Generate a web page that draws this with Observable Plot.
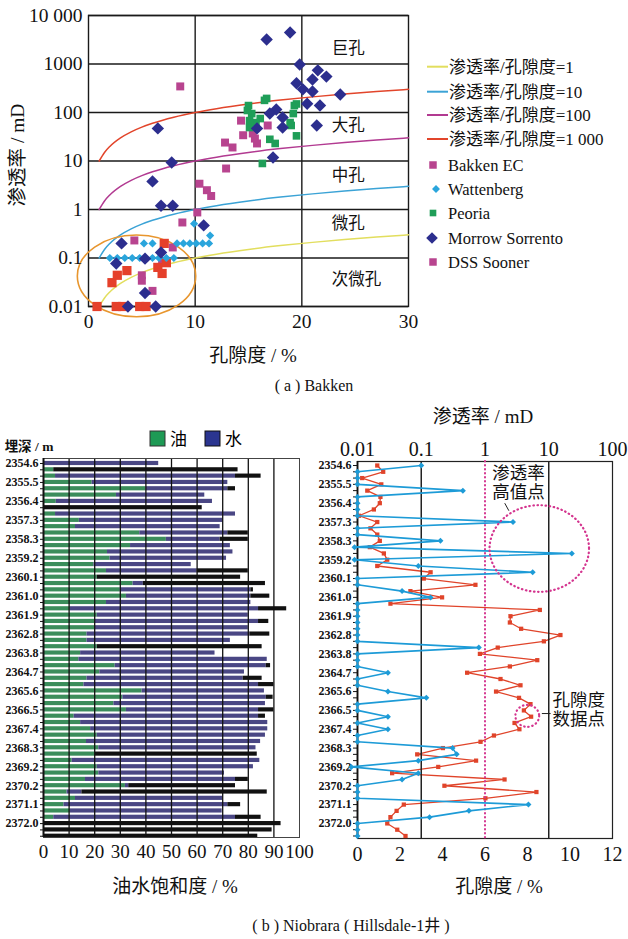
<!DOCTYPE html>
<html><head><meta charset="utf-8">
<script src="https://cdn.jsdelivr.net/npm/d3@7"></script>
<script src="https://cdn.jsdelivr.net/npm/@observablehq/plot@0.6"></script>
<style>
body{margin:0;background:#fff;}
#root{position:relative;width:628px;height:939px;overflow:hidden;font-family:"Liberation Serif","DejaVu Serif","Times New Roman","Noto Sans CJK SC",serif;color:#111;}
.box{position:absolute;}
</style></head><body><div id="root"></div>
<script>
// ================= Panel (a) data =================
const permTicks = [0.01, 0.1, 1, 10, 100, 1000, 10000];
const permTickLabels = ["0.01", "0.1", "1", "10", "100", "1000", "10 000"];
const porTicksA = [0, 10, 20, 30];
const ratioNames = ["渗透率/孔隙度=1", "渗透率/孔隙度=10", "渗透率/孔隙度=100", "渗透率/孔隙度=1 000"];
const curvePhi   = [1, 1.5, 2, 3, 4, 5, 6, 8, 10, 12, 15, 18, 21, 24, 27, 30];
const curveK1    = [0.01, 0.015, 0.02, 0.03, 0.04, 0.05, 0.06, 0.08, 0.1, 0.12, 0.15, 0.18, 0.21, 0.24, 0.27, 0.3];
const curveK10   = [0.1, 0.15, 0.2, 0.3, 0.4, 0.5, 0.6, 0.8, 1, 1.2, 1.5, 1.8, 2.1, 2.4, 2.7, 3];
const curveK100  = [1, 1.5, 2, 3, 4, 5, 6, 8, 10, 12, 15, 18, 21, 24, 27, 30];
const curveK1000 = [10, 15, 20, 30, 40, 50, 60, 80, 100, 120, 150, 180, 210, 240, 270, 300];

const bakkenEC = [[8.6,345],[14.3,68],[14.5,34],[15.4,37],[15.6,29],[12.8,24],[13.5,19],[12.9,7],[16.8,54],[15.8,23],[10.4,3.4],[11.1,2.5],[11.5,1.9],[10.2,0.87],[8.8,0.54]];
const dssSooner = [[4.3,0.23],[7.9,0.165],[6.9,0.08],[5.0,0.044],[5.0,0.034],[6.0,0.021]];
const redSquares = [[0.8,0.01],[2.6,0.01],[3.2,0.01],[4.8,0.01],[5.4,0.01],[2.2,0.031],[2.7,0.044],[3.6,0.055],[6.5,0.064],[6.9,0.048],[7.3,0.08],[7.1,0.2]];
const peoria = [[16.7,195],[15.0,139],[19.3,139],[19.5,150],[15.3,95],[16.1,75],[15.1,49],[19.2,95],[19.0,54],[19.5,33],[17.0,28],[17.5,23],[16.3,8.9],[14.9,110],[15.7,62],[16.5,178],[18.9,62],[15.1,68]];
const wattenberg = [[2.0,0.1],[2.7,0.1],[3.4,0.1],[4.1,0.1],[4.8,0.1],[6.0,0.1],[6.6,0.1],[7.3,0.1],[8.0,0.1],[5.2,0.2],[6.0,0.2],[8.3,0.2],[8.9,0.2],[9.5,0.2],[10.1,0.2],[10.7,0.2],[11.3,0.2],[11.4,0.29],[9.9,0.51]];
const morrow = [[16.7,3200],[18.9,4450],[19.8,980],[21.5,740],[22.3,550],[21.0,480],[19.5,400],[20.1,300],[21.0,270],[23.6,235],[20.5,152],[21.7,139],[17.6,115],[17.0,95],[18.2,79],[18.2,49],[15.8,47],[21.4,54],[17.3,11.8],[6.5,47],[7.8,9.3],[6.0,3.8],[6.8,1.2],[7.9,1.2],[10.8,0.47],[3.1,0.2],[2.6,0.077],[5.3,0.097],[6.8,0.13],[5.3,0.019],[3.7,0.01],[6.3,0.01]];
const poreClasses = ["巨孔", "大孔", "中孔", "微孔", "次微孔"];
const poreClassK  = [2100, 54, 5, 0.5, 0.035];
const poreClassPhi = 22.8;
const ellipseA = [{x1: -1.0, x2: 10.1, y1: 0.29, y2: 0.006}];
const legendNames = ["Bakken EC", "Wattenberg", "Peoria", "Morrow Sorrento", "DSS Sooner"];

// ================= Panel (b) data =================
const depthLabels = ["2354.6","2355.5","2356.4","2357.3","2358.3","2359.2","2360.1","2361.0","2361.9","2362.8","2363.8","2364.7","2365.6","2366.5","2367.4","2368.3","2369.2","2370.2","2371.1","2372.0"];
const satTicks = [0,10,20,30,40,50,60,70,80,90,100];
const oilSat   = [0,4,4.7,19,40,28.5,5,0,4.7,14,12.5,37.6,48,34,25,26,19.7,24.6,21,35,30,32.4,24.6,10.5,21,20,20,17,17,21,14.5,13.8,28,22,17,15.8,38.5,31,27.5,32.4,12,14.5,18.4,21,16.8,21.6,20.3,11.2,21,21.6,16.4,32,9.2,12.5,8,10.5,4,0,0,0];
const waterSat = [45,0,70.3,53,32,34.5,61,0,70.3,56,56.5,34.4,21,39,49,45.5,38,35.4,0,4,51,48.6,56.4,73.5,59,64,60,63.6,56,0,52.5,73.6,59,56.5,61,68.2,47.8,56,59.2,51.6,72,73.1,69.2,65.7,68,61.4,0,73.3,61,49.1,58.6,1.3,5.8,57.5,64,59.3,71,0,0,0];
const blackBar = [0,72,10,0,3,0,0,62,0,0,0,8,11,0,0,0,0,20,56,47.7,1,7.4,0,11,0,4,0,7.8,0,64.4,0,0,1.7,0,7.4,6,0,2.7,0,6,2.7,0,0,0,0,0,63.2,0,0,0,5,41.7,72.4,0,5,0,10,92.8,89.3,83.7];
const permK = [0.1,0.01,0.01,0.01,0.45,0.01,0.01,0.01,0.01,2.75,0.01,0.01,0.2,0.009,23,0.009,0.09,5.6,0.01,0.01,0.05,0.14,0.01,0.01,0.01,0.01,0.01,0.01,0.01,0.8,0.01,0.01,0.01,0.03,0.01,0.01,0.03,0.12,0.01,0.01,0.03,0.01,0.03,0.01,0.01,0.31,0.36,0.09,0.008,0.09,0.05,0.01,0.01,0.01,4.8,0.56,0.135,0.01,0.01,0.01];
const porosityB = [0.93,1.21,0.22,1.12,0.46,1.08,1.05,0.77,0.07,0.93,0.61,0.93,1.05,0.58,1.24,1.4,0.93,3.44,3.12,5.55,2.49,3.98,1.55,8.58,7.2,7.17,7.7,9.55,8.77,6.6,5.76,8.46,7.17,5.16,6.73,7.67,6.52,7.6,8.14,7.83,8.17,7.39,7.62,6.42,5.79,4.02,2.81,5.58,3.8,1.63,6.92,4.09,8.42,6.02,2.18,1.84,1.55,1.4,1.87,2.26];
const permTicksB = [0.01, 0.1, 1, 10, 100];
const permTickLabelsB = ["0.01", "0.1", "1", "10", "100"];
const porTicksB = [0, 2, 4, 6, 8, 10, 12];
const annotTexts = [
  {text: "渗透率", k: 1.3, row: 2.3},
  {text: "高值点", k: 1.3, row: 5.3},
  {text: "孔隙度", k: 11.5, row: 38.4},
  {text: "数据点", k: 11.5, row: 41.4}
];
const annotEllipses = [
  {x1: 1.2, x2: 43.6, y1: 7.4, y2: 21.2},
  {x1: 3.05, x2: 7.2, y1: 39.2, y2: 42.7}
];
const annotLinks = [
  {k1: 2.04, k2: 2.37, r1: 7.0, r2: 8.2},
  {k1: 7.8, k2: 10.7, r1: 40.5, r2: 40.5}
];

// ================= helpers =================
const FONT = "'Liberation Serif','DejaVu Serif','Times New Roman','Noto Sans CJK SC',serif";
const root = document.getElementById("root");
function place(node, left, top) {
  const d = document.createElement("div");
  d.className = "box"; d.style.left = left + "px"; d.style.top = top + "px";
  d.appendChild(node); root.appendChild(d); return d;
}
function label(txt, x, y, size, opts = {}) {
  const d = document.createElement("div");
  d.textContent = txt;
  Object.assign(d.style, {position: "absolute", left: x + "px", top: y + "px", fontSize: size + "px",
    whiteSpace: "nowrap", lineHeight: "1", fontWeight: opts.bold ? "bold" : "normal", fontFamily: FONT,
    transform: "translate(-50%,-50%)" + (opts.rotate ? " rotate(-90deg)" : "")});
  root.appendChild(d);
}
function ellipseMark(list, style) {
  return (index, scales) => {
    const g = d3.create("svg:g");
    for (const e of list) {
      const x1 = scales.x(e.x1), x2 = scales.x(e.x2), y1 = scales.y(e.y1), y2 = scales.y(e.y2);
      g.append("ellipse").attr("cx", (x1 + x2) / 2).attr("cy", (y1 + y2) / 2)
        .attr("rx", Math.abs(x2 - x1) / 2).attr("ry", Math.abs(y2 - y1) / 2)
        .attr("fill", "none").attr("stroke", style.stroke).attr("stroke-width", style.width)
        .attr("stroke-dasharray", style.dash || null).attr("stroke-linecap", "round");
    }
    return g.node();
  };
}
const baseStyle = {fontFamily: FONT, background: "transparent", overflow: "visible", color: "#111"};

// ================= Panel (a) =================
const curveColors = ["#e2de5e", "#3ba3d6", "#b23a91", "#e2452b"];
const curveKs = [curveK1, curveK10, curveK100, curveK1000];
const curveData = ratioNames.flatMap((n, j) => curvePhi.map((p, i) => ({phi: p, k: curveKs[j][i], j})));
const pts = a => a.map(([phi, k]) => ({phi, k}));
const scatter = [
  {data: pts(bakkenEC), fill: "#b8448f", symbol: "square", r: 4.5},
  {data: pts(dssSooner), fill: "#b8448f", symbol: "square", r: 4.5},
  {data: pts(redSquares), fill: "#e5402b", symbol: "square", r: 5.2},
  {data: pts(peoria), fill: "#1f9e58", symbol: "square", r: 4.3},
  {data: pts(wattenberg), fill: "#2aa5dc", symbol: "diamond2", r: 3.7},
  {data: pts(morrow), fill: "#2c2e8e", symbol: "diamond2", r: 5.6}
];
const plotA = Plot.plot({
  width: 420, height: 340, marginLeft: 88, marginRight: 12, marginTop: 15, marginBottom: 34,
  x: {domain: [0, 30]}, y: {type: "log", domain: [0.01, 10000]},
  style: {...baseStyle, fontSize: "19px"},
  marks: [
    Plot.ruleY(permTicks, {stroke: "#1a1a1a", strokeWidth: 1.4}),
    Plot.ruleX([10, 20], {stroke: "#1a1a1a", strokeWidth: 1.4}),
    Plot.frame({stroke: "#1a1a1a", strokeWidth: 1.4}),
    ...curveKs.map((_, j) => Plot.line(curveData.filter(d => d.j === j), {x: "phi", y: "k", stroke: curveColors[j], strokeWidth: 1.5, curve: "monotone-x"})),
    ellipseMark(ellipseA, {stroke: "#e8962e", width: 1.6}),
    ...scatter.map(s => Plot.dot(s.data, {x: "phi", y: "k", symbol: s.symbol, r: s.r, fill: s.fill, stroke: "none"})),
    Plot.text(poreClasses, {x: () => poreClassPhi, y: (d, i) => poreClassK[i], text: d => d, textAnchor: "start", fontSize: 16.5, fontFamily: FONT}),
    Plot.axisY(permTicks, {tickSize: 0, tickPadding: 6, fontSize: 19.5, fontFamily: FONT, tickFormat: d => permTickLabels[permTicks.indexOf(d)], label: null}),
    Plot.axisX(porTicksA, {tickSize: 0, tickPadding: 8, fontSize: 19.5, fontFamily: FONT, label: null})
  ]
});
place(plotA, 0, 0);
label("渗透率 / mD", 18, 155, 19.5, {rotate: true});
label("孔隙度 / %", 253, 355, 19);
label("( a ) Bakken", 314, 386, 16);

// legend (a)
(function () {
  const svg = d3.create("svg").attr("width", 208).attr("height", 230)
    .style("font-family", FONT).style("overflow", "visible");
  const lineY = [16.7, 41.7, 65, 89];
  ratioNames.forEach((n, i) => {
    svg.append("line").attr("x1", 7).attr("x2", 28).attr("y1", lineY[i]).attr("y2", lineY[i])
      .attr("stroke", curveColors[i]).attr("stroke-width", 2);
    svg.append("text").attr("x", 29).attr("y", lineY[i]).attr("dy", "0.35em").attr("font-size", 17).attr("fill", "#111").text(n);
  });
  const markY = [115, 139, 163, 188, 212];
  const markers = [
    {fill: "#b8448f", symbol: d3.symbolSquare, size: 56, x: 13},
    {fill: "#2aa5dc", symbol: d3.symbolDiamond2, size: 40, x: 16},
    {fill: "#1f9e58", symbol: d3.symbolSquare, size: 44, x: 13},
    {fill: "#2c2e8e", symbol: d3.symbolDiamond2, size: 86, x: 12},
    {fill: "#b8448f", symbol: d3.symbolSquare, size: 56, x: 13}
  ];
  legendNames.forEach((n, i) => {
    svg.append("path").attr("d", d3.symbol(markers[i].symbol, markers[i].size)())
      .attr("transform", `translate(${markers[i].x},${markY[i]})`).attr("fill", markers[i].fill);
    svg.append("text").attr("x", 28).attr("y", markY[i]).attr("dy", "0.35em").attr("font-size", 16.5).attr("fill", "#111").text(n);
  });
  place(svg.node(), 420, 50);
})();

// ================= Panel (b) left =================
const rowIdx = oilSat.map((_, i) => i + 1);
const rowLabel = r => ((r - 1) % 3 === 0 && depthLabels[(r - 1) / 3]) ? depthLabels[(r - 1) / 3] : "";
const segs = rowIdx.flatMap((r, i) => {
  const o = oilSat[i], w = waterSat[i], b = blackBar[i];
  return [
    {row: r, x1: 0, x2: o, kind: "oil"},
    {row: r, x1: o, x2: o + w, kind: "water"},
    {row: r, x1: o + w, x2: o + w + b, kind: "black"}
  ].filter(s => s.x2 > s.x1);
});
const segColor = {oil: "#3b8d5b", water: "#4a4784", black: "#111"};
const plotBL = Plot.plot({
  width: 310, height: 420, marginLeft: 43, marginRight: 11, marginTop: 3, marginBottom: 38,
  x: {domain: [0, 100]}, y: {domain: [0.21, 60.2], reverse: true},
  style: {...baseStyle, fontSize: "12px"},
  marks: [
    ...["oil", "water", "black"].map(kd => Plot.rectX(segs.filter(s => s.kind === kd), {x1: "x1", x2: "x2", y1: d => d.row - 0.33, y2: d => d.row + 0.33, fill: segColor[kd]})),
    Plot.ruleX(satTicks.slice(1, -1), {stroke: "#111", strokeWidth: 1.3}),
    Plot.frame({stroke: "#444", strokeWidth: 1}),
    Plot.ruleX([0], {stroke: "#111", strokeWidth: 2}),
    Plot.axisX(satTicks, {tickSize: 0, tickPadding: 7, fontSize: 19, fontFamily: FONT, label: null}),
    Plot.axisY(rowIdx, {tickSize: 3, tickPadding: 2, fontSize: 12, fontWeight: "bold", fontFamily: FONT, tickFormat: rowLabel, label: null})
  ]
});
place(plotBL, 0, 455);
label("埋深 / m", 29, 447, 13.5, {bold: true});
(function () {
  const svg = d3.create("svg").attr("width", 110).attr("height", 24).style("font-family", FONT);
  svg.append("rect").attr("x", 1).attr("y", 2).attr("width", 15).attr("height", 15).attr("fill", "#1e9a55").attr("stroke", "#333");
  svg.append("text").attr("x", 21).attr("y", 10).attr("dy", "0.35em").attr("font-size", 17).text("油");
  svg.append("rect").attr("x", 56).attr("y", 2).attr("width", 15).attr("height", 15).attr("fill", "#2b3590").attr("stroke", "#111");
  svg.append("text").attr("x", 76).attr("y", 10).attr("dy", "0.35em").attr("font-size", 17).text("水");
  place(svg.node(), 149, 429);
})();
label("油水饱和度 / %", 175, 886, 19);

// ================= Panel (b) right =================
const rowsB = rowIdx.map((r, i) => ({row: r, k: permK[i], phi: porosityB[i]}));
const dimsB = {width: 313, height: 471, marginLeft: 42, marginRight: 16, marginTop: 56, marginBottom: 38};
const yB = {domain: [0.36, 60.4], reverse: true};
const plotPor = Plot.plot({
  ...dimsB, x: {domain: [0, 12]}, y: yB,
  style: {...baseStyle, fontSize: "12px"},
  marks: [
    Plot.frame({stroke: "#222", strokeWidth: 1.2}),
    Plot.ruleX([0], {stroke: "#111", strokeWidth: 1.8}),
    Plot.line(rowsB, {x: "phi", y: "row", stroke: "#e0442a", strokeWidth: 1.3}),
    Plot.dot(rowsB, {x: "phi", y: "row", symbol: "square", r: 2.4, fill: "#e0442a"}),
    Plot.axisX(porTicksB, {tickSize: 0, tickPadding: 8, fontSize: 20, fontFamily: FONT, label: null}),
    Plot.axisY(rowIdx, {tickSize: 4, tickPadding: 2, fontSize: 12, fontWeight: "bold", fontFamily: FONT, tickFormat: rowLabel, label: null})
  ]
});
place(plotPor, 315, 405);
const plotPerm = Plot.plot({
  ...dimsB, x: {type: "log", domain: [0.01, 100]}, y: {...yB, axis: null},
  style: {...baseStyle, fontSize: "20px"},
  marks: [
    Plot.ruleX([0.1, 10], {stroke: "#222", strokeWidth: 1.5}),
    Plot.ruleX([1], {stroke: "#d4358f", strokeWidth: 2, strokeDasharray: "0.5,3.5", strokeLinecap: "round"}),
    Plot.line(rowsB, {x: "k", y: "row", stroke: "#1d9bd7", strokeWidth: 1.6}),
    Plot.dot(rowsB, {x: "k", y: "row", symbol: "diamond2", r: 2.7, fill: "#1d9bd7"}),
    ellipseMark(annotEllipses, {stroke: "#d4358f", width: 2.2, dash: "0.5,3.6"}),
    Plot.link(annotLinks, {x1: "k1", x2: "k2", y1: "r1", y2: "r2", stroke: "#222", strokeWidth: 1}),
    Plot.text(annotTexts, {x: "k", y: "row", text: "text", textAnchor: "start", fontSize: 17.5, fontFamily: FONT}),
    Plot.axisX(permTicksB, {anchor: "top", tickSize: 0, tickPadding: 6, fontSize: 20, fontFamily: FONT, tickFormat: d => permTickLabelsB[permTicksB.indexOf(d)], label: null})
  ]
});
place(plotPerm, 315, 405);
label("渗透率 / mD", 483, 416, 19);
label("孔隙度 / %", 499, 886, 19);
label("( b ) Niobrara ( Hillsdale-1井 )", 351, 926, 16);
</script></body></html>
